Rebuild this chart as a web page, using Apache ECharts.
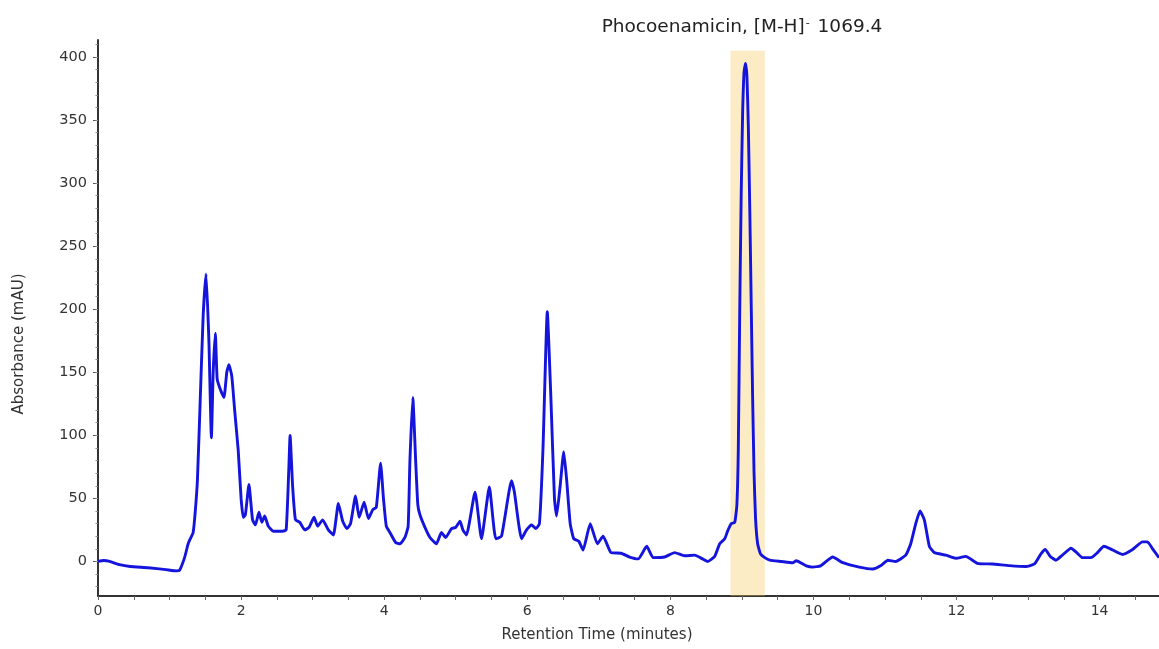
<!DOCTYPE html>
<html>
<head>
<meta charset="utf-8">
<script src="https://cdn.jsdelivr.net/npm/echarts@6/dist/echarts.min.js"></script>
<style>html,body{margin:0;padding:0;background:#fff;}#c{width:1159px;height:649px;}</style>
</head>
<body>
<div id="c"></div>
<script>
// Retention time (minutes)
var times = [
  0.00,0.08,0.15,0.30,0.45,0.70,0.95,1.10,1.14,1.21,1.26,1.29,1.33,1.36,1.39,1.43,1.47,1.51,1.55,1.585,
  1.61,1.64,1.665,1.70,1.76,1.80,1.83,1.87,1.91,1.96,2.00,2.03,2.06,2.11,2.16,2.20,2.25,2.29,2.33,2.38,
  2.45,2.58,2.63,2.665,2.685,2.72,2.76,2.82,2.89,2.95,3.02,3.07,3.14,3.22,3.29,3.36,3.42,3.48,3.53,3.60,
  3.65,3.72,3.78,3.84,3.89,3.95,3.99,4.03,4.08,4.16,4.22,4.29,4.335,4.36,4.40,4.44,4.47,4.50,4.57,4.64,
  4.73,4.80,4.86,4.94,5.00,5.06,5.10,5.15,5.27,5.36,5.47,5.56,5.64,5.78,5.82,5.92,5.99,6.06,6.12,6.17,
  6.22,6.28,6.33,6.38,6.41,6.46,6.51,6.55,6.60,6.65,6.72,6.78,6.88,6.98,7.06,7.17,7.31,7.43,7.55,7.67,
  7.76,7.92,8.06,8.20,8.34,8.45,8.52,8.62,8.69,8.76,8.80,8.85,8.90,8.93,8.95,8.97,8.99,9.01,9.03,9.05,
  9.07,9.09,9.11,9.13,9.15,9.17,9.19,9.22,9.26,9.32,9.39,9.55,9.71,9.76,9.90,9.99,10.10,10.27,10.41,10.64,
  10.83,10.95,11.04,11.15,11.29,11.36,11.43,11.49,11.55,11.62,11.69,11.85,11.99,12.13,12.29,12.50,12.74,12.97,13.09,13.18,
  13.24,13.31,13.39,13.48,13.60,13.68,13.76,13.88,13.97,14.06,14.15,14.32,14.45,14.60,14.67,14.74,14.83
];
// Absorbance (mAU)
var absorbance = [
  0,0.8,0.3,-2.5,-4,-5,-6.5,-7.5,-7,3,14,18,23,40,65,130,195,228,175,98,
  150,181,145,138,130,150,156,147,120,88,50,35,37,61,33,29,39,31,36,28,
  24,24,25,70,100,60,33,31,25,27,35,28,33,25,21,46,32,26,30,52,
  35,47,34,41,43,78,50,28,23,15,14,19,28,80,130,80,45,37,27,19,
  14,23,19,26,27,32,25,21,55,18,59,18,20,64,55,18,25,29,26,30,
  90,198,130,50,36,60,87,65,30,18,16,9,30,14,20,7,6.5,3.5,2,12,
  3,3.5,7,4.5,5,2,0,4,14,18,24,30,31,45,90,200,290,355,388,395,
  385,345,280,205,130,70,35,14,6,3,1,0,-1,0.5,-3.5,-4.5,-3.5,3.5,-1,-4.5,
  -6,-3,1,0,5,14,30,40,33,12,7,5,2.5,4,-1.5,-2,-3.3,-4,-2,6,
  9.5,4,1,5,10.5,7,3,3,7,12,10,5.5,9,15.5,15.5,10,3
];
var xTickLabels = [0, 2, 4, 6, 8, 10, 12, 14];
var yTickLabels = [0, 50, 100, 150, 200, 250, 300, 350, 400];
var highlightRange = [8.84, 9.32];
var highlightTop = 405;
var titleMain = 'Phocoenamicin, [M-H]';
var titleSup = '-';
var titleTail = ' 1069.4';
var xName = 'Retention Time (minutes)';
var yName = 'Absorbance (mAU)';

var X_MIN = 0, X_MAX = 14.83, Y_MIN = -27.4, Y_MAX = 413.5;
var xMinorTicks = [];
for (var i = 0; i <= 29; i++) xMinorTicks.push(i * 0.5);
var yMinorTicks = [];
for (var j = -20; j <= 410; j += 10) yMinorTicks.push(j);

var pts = times.map(function (t, k) { return [t, absorbance[k]]; });

var axisColor = '#333';
var FONT = 'DejaVu Sans';
var chart = echarts.init(document.getElementById('c'), null, {renderer: 'canvas'});
chart.setOption({
  animation: false,
  backgroundColor: '#fff',
  grid: {left: 98, right: 0, top: 40, bottom: 53, containLabel: false},
  title: {
    text: '{a|' + titleMain + '}{s|' + titleSup + '}{a|' + titleTail + '}',
    left: 737, top: 13, textAlign: 'center',
    textStyle: {
      fontWeight: 'normal',
      rich: {
        a: {fontFamily: FONT, fontSize: 18.5, fontWeight: 'normal', color: '#222'},
        s: {fontFamily: FONT, fontSize: 11, fontWeight: 'normal', color: '#222', verticalAlign: 'top', padding: [0, 2, 8, 1]}
      }
    }
  },
  xAxis: [{
    type: 'value', min: X_MIN, max: X_MAX,
    axisLine: {show: true, onZero: false, lineStyle: {color: axisColor, width: 2}},
    axisTick: {show: true, length: 4, customValues: xMinorTicks, lineStyle: {color: '#666', width: 1}},
    axisLabel: {customValues: xTickLabels, margin: 8, fontFamily: FONT, fontSize: 14, color: '#333'},
    splitLine: {show: false}
  }],
  yAxis: [{
    type: 'value', min: Y_MIN, max: Y_MAX,
    axisLine: {show: true, onZero: false, lineStyle: {color: axisColor, width: 2}},
    axisTick: {show: true, length: 5, customValues: yTickLabels, lineStyle: {color: '#555', width: 1}},
    axisLabel: {customValues: yTickLabels, margin: 11, fontFamily: FONT, fontSize: 14.5, color: '#333'},
    splitLine: {show: false}
  }, {
    type: 'value', min: Y_MIN, max: Y_MAX, position: 'left',
    axisLine: {show: false},
    axisTick: {show: true, length: 2.5, customValues: yMinorTicks, lineStyle: {color: '#888', width: 1}},
    axisLabel: {show: false},
    splitLine: {show: false}
  }],
  graphic: [
    {type: 'text', x: 597, y: 628, style: {text: xName, font: '15px "DejaVu Sans"', fill: '#333', textAlign: 'center', textVerticalAlign: 'top'}},
    {type: 'text', x: 12, y: 344, rotation: Math.PI / 2, style: {text: yName, font: '15px "DejaVu Sans"', fill: '#333', textAlign: 'center', textVerticalAlign: 'top'}}
  ],
  series: [{
    type: 'line', data: pts, showSymbol: false, smooth: 0.15, z: 2,
    lineStyle: {color: '#1414dc', width: 2.9}
  }, {
    type: 'line', data: [], z: 5,
    markArea: {
      silent: true,
      itemStyle: {color: 'rgba(245,200,90,0.35)'},
      data: [[{xAxis: highlightRange[0], yAxis: highlightTop}, {xAxis: highlightRange[1], yAxis: Y_MIN}]]
    }
  }]
});
</script>
</body>
</html>
